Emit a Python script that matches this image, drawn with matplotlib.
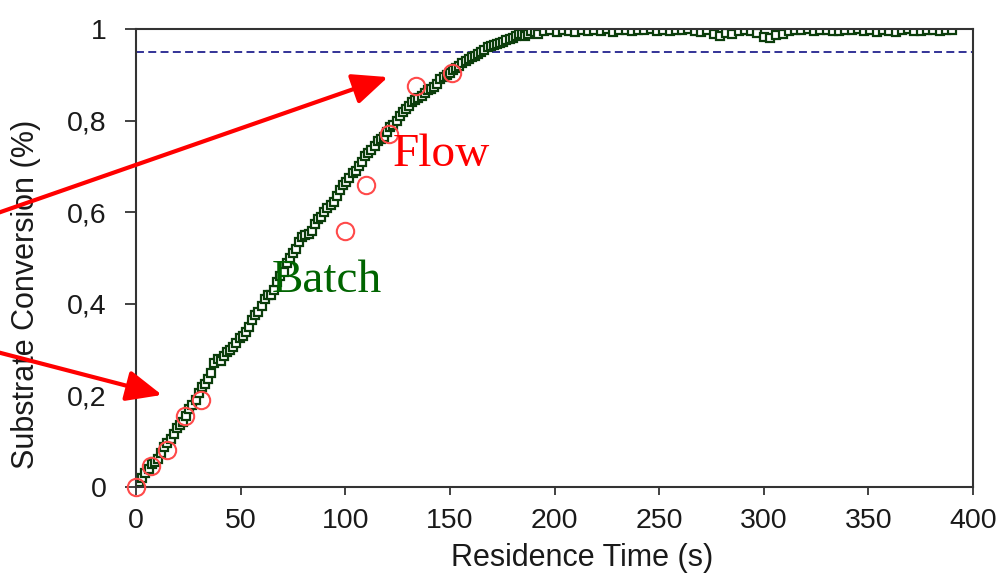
import matplotlib
matplotlib.use("Agg")
import matplotlib.pyplot as plt

# batch run (squares)
batch_t = [0, 3, 6, 9, 12, 15, 18, 21, 24, 27, 30, 33, 36, 39, 42, 45, 48, 51, 54, 57,
           60, 63, 66, 69, 72, 75, 78, 81, 84, 87, 90, 93, 96, 99, 102, 105, 108, 111, 114, 117,
           120, 123, 126, 129, 132, 135, 138, 141, 144, 147, 150, 153, 156, 159, 162, 165, 168, 171, 174, 177,
           180, 183, 186, 189, 192, 195, 198, 201, 204, 207, 210, 213, 216, 219, 222, 225, 228, 231, 234, 237,
           240, 243, 246, 249, 252, 255, 258, 261, 264, 267, 270, 273, 276, 279, 282, 285, 288, 291, 294, 297,
           300, 303, 306, 309, 312, 315, 318, 321, 324, 327, 330, 333, 336, 339, 342, 345, 348, 351, 354, 357,
           360, 363, 366, 369, 372, 375, 378, 381, 384, 387, 390]
batch_x = [0.00, 0.02, 0.04, 0.055, 0.075, 0.095, 0.115, 0.135, 0.155, 0.18, 0.205, 0.225, 0.25, 0.28, 0.285, 0.30, 0.315, 0.33, 0.35, 0.375,
           0.395, 0.42, 0.43, 0.46, 0.49, 0.51, 0.535, 0.55, 0.56, 0.585, 0.60, 0.615, 0.635, 0.66, 0.675, 0.69, 0.71, 0.73, 0.745, 0.76,
           0.775, 0.79, 0.81, 0.825, 0.84, 0.85, 0.86, 0.87, 0.88, 0.895, 0.905, 0.915, 0.925, 0.935, 0.94, 0.95, 0.96, 0.965, 0.97, 0.975,
           0.98, 0.99, 0.985, 0.995, 0.99, 0.995, 0.998, 0.993, 0.998, 0.996, 0.993, 0.997, 0.995, 0.998, 0.996, 0.999, 0.994, 0.997, 0.998, 0.995,
           0.998, 0.997, 0.999, 0.996, 0.997, 0.995, 0.998, 0.997, 0.999, 0.996, 0.993, 0.998, 0.99, 0.985, 0.992, 0.988, 0.996, 0.997, 0.995, 0.992,
           0.983, 0.98, 0.987, 0.99, 0.996, 0.998, 0.997, 0.999, 0.996, 0.997, 0.998, 0.995, 0.996, 0.998, 0.997, 0.999, 0.995, 0.997, 0.993, 0.998,
           0.996, 0.994, 0.997, 0.999, 0.995, 0.996, 0.998, 0.997, 0.995, 0.998, 0.997]
# extra samples in the rising part, where the squares crowd together
batch_t2 = [1.5, 4.5, 7.5, 10.5, 13.5, 16.5, 19.5, 22.5, 25.5, 28.5, 31.5, 34.5, 37.5, 40.5, 43.5, 46.5,
            49.5, 52.5, 55.5, 58.5, 61.5, 64.5, 67.5, 70.5, 73.5, 76.5, 79.5, 82.5, 85.5, 88.5, 91.5, 94.5,
            97.5, 100.5, 103.5, 106.5, 109.5, 112.5, 115.5, 118.5, 121.5, 124.5, 127.5, 130.5, 133.5, 136.5,
            139.5, 142.5, 145.5, 148.5, 151.5, 154.5, 157.5, 160.5, 163.5, 166.5, 169.5, 172.5, 175.5, 178.5,
            181.5, 184.5, 187.5, 190.5]
batch_x2 = [0.012, 0.03, 0.05, 0.062, 0.088, 0.104, 0.128, 0.142, 0.17, 0.19, 0.218, 0.236, 0.27, 0.276, 0.295, 0.305,
            0.325, 0.338, 0.365, 0.383, 0.41, 0.42, 0.448, 0.47, 0.50, 0.52, 0.545, 0.552, 0.575, 0.59, 0.61, 0.622,
            0.648, 0.665, 0.685, 0.70, 0.722, 0.735, 0.755, 0.765, 0.785, 0.80, 0.818, 0.832, 0.845, 0.853,
            0.866, 0.874, 0.89, 0.90, 0.91, 0.92, 0.93, 0.938, 0.946, 0.955, 0.962, 0.968, 0.972, 0.978,
            0.985, 0.988, 0.99, 0.993]

# flow run (circles)
flow_t = [0, 7, 15, 23.5, 31, 100, 110, 121, 134, 151]
flow_x = [0.0, 0.045, 0.08, 0.155, 0.19, 0.56, 0.66, 0.77, 0.875, 0.905]

target = 0.95
xticks = [0, 50, 100, 150, 200, 250, 300, 350, 400]
yticks = [0, 0.2, 0.4, 0.6, 0.8, 1]
ylabels = ["0", "0,2", "0,4", "0,6", "0,8", "1"]

pts = sorted(zip(batch_t + batch_t2, batch_x + batch_x2))
bt = [p[0] for p in pts]
bx = [p[1] for p in pts]

plt.rcParams['font.family'] = ['Liberation Sans', 'DejaVu Sans']

fig = plt.figure(figsize=(10.01, 5.78), dpi=100)
ax = fig.add_axes([136/1001, 1-487/578, (973-136)/1001, (487-29)/578])

ax.axhline(target, color='#23238f', lw=1.3, ls=(0, (4.4, 2.4)), zorder=1)
ax.plot(bt, bx, color='#0d2e0d', lw=1.0, marker='s', ms=6, mfc='white',
        mec='#0b3d0b', mew=1.6, zorder=2)
ax.plot(flow_t, flow_x, ls='none', marker='o', ms=12.5, mfc='none',
        mec='#ff4a4a', mew=1.5, zorder=3, clip_on=False)

ax.set_xlim(0, 400)
ax.set_ylim(0, 1)
ax.set_xticks(xticks)
ax.set_yticks(yticks)
ax.set_yticklabels(ylabels)

for s in ax.spines.values():
    s.set_color('#333333')
    s.set_linewidth(1.5)

ax.tick_params(axis='y', length=8, width=1.3, pad=13, labelsize=20.5,
               colors='#333333', labelcolor='#1a1a1a')
ax.tick_params(axis='x', length=6, width=1.3, pad=9, labelsize=20.5,
               colors='#333333', labelcolor='#1a1a1a')
ax.set_xlabel('Residence Time (s)', fontsize=22, color='#1a1a1a')
ax.set_ylabel('Substrate Conversion (%)', fontsize=22, color='#1a1a1a')
ax.xaxis.set_label_coords(0.533, -0.122)
ax.yaxis.set_label_coords(-0.113, 0.421)

ax.text(122.5, 0.70, 'Flow', color='#ff0000', fontsize=34,
        family=['Liberation Serif', 'DejaVu Serif'], zorder=4)
ax.text(65, 0.425, 'Batch', color='#006400', fontsize=34,
        family=['Liberation Serif', 'DejaVu Serif'], zorder=4)

arrow = dict(arrowstyle='-|>,head_length=0.8,head_width=0.35', color='#ff0000',
             lw=3, mutation_scale=27, shrinkA=0, shrinkB=0)
ax.annotate('', xy=(120.4, 0.895), xytext=(-70, 0.592), arrowprops=arrow,
            annotation_clip=False, zorder=5)
ax.annotate('', xy=(12.4, 0.201), xytext=(-70, 0.299), arrowprops=arrow,
            annotation_clip=False, zorder=5)

fig.savefig('out.png', dpi=100)
